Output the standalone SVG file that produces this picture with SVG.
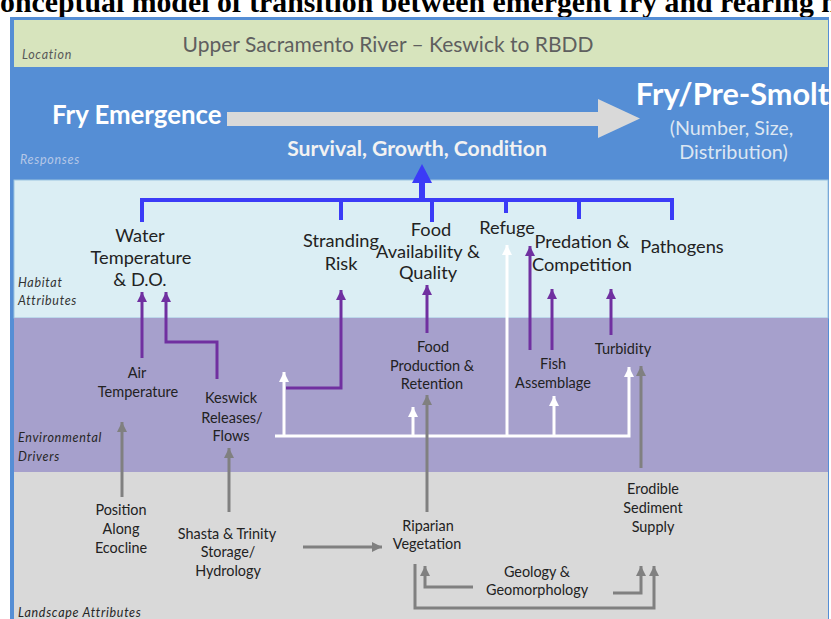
<svg xmlns="http://www.w3.org/2000/svg" width="831" height="619" viewBox="0 0 831 619">
<style>
text{font-family:Lato,"Liberation Sans",sans-serif;}
.t{font-size:18.2px;fill:#222;text-anchor:middle;}
.e{font-size:14.5px;fill:#222;text-anchor:middle;}
.l{font-size:14.4px;fill:#222;text-anchor:middle;}
.lab{font-size:12.5px;font-style:italic;fill:#333;letter-spacing:0.7px;}
.blue{stroke:#3B3BF7;stroke-width:4;fill:none;}
.pur{stroke:#7030A0;stroke-width:3;fill:none;marker-end:url(#mp);}
.wht{stroke:#FFFFFF;stroke-width:3;fill:none;marker-end:url(#mw);}
.gry{stroke:#808080;stroke-width:3;fill:none;marker-end:url(#mg);}
</style>
<defs>
<marker id="mp" viewBox="0 0 10 10" refX="10" refY="5" markerWidth="10" markerHeight="10" markerUnits="userSpaceOnUse" orient="auto"><path d="M0,0 L10,5 L0,10 z" fill="#7030A0"/></marker>
<marker id="mw" viewBox="0 0 10 10" refX="10" refY="5" markerWidth="10" markerHeight="10" markerUnits="userSpaceOnUse" orient="auto"><path d="M0,0 L10,5 L0,10 z" fill="#FFFFFF"/></marker>
<marker id="mg" viewBox="0 0 10 10" refX="10" refY="5" markerWidth="10" markerHeight="10" markerUnits="userSpaceOnUse" orient="auto"><path d="M0,0 L10,5 L0,10 z" fill="#808080"/></marker>
</defs>
<rect x="0" y="0" width="831" height="619" fill="#FFFFFF"/>
<text x="-21.5" y="12" style="font-family:'Liberation Serif',serif;font-weight:bold;font-size:29.8px;fill:#000;">Conceptual model of transition between emergent fry and rearing habitat</text>
<g id="frame">
<rect x="10" y="17" width="819" height="610" fill="#558ED5"/>
<rect x="14" y="20" width="814" height="47" fill="#D7E4BD"/>
<rect x="14" y="67" width="814" height="113" fill="#558ED5"/>
<rect x="14" y="180" width="814" height="138" fill="#DBEEF4" stroke="#9CC3E0" stroke-width="1"/>
<rect x="14" y="318" width="814" height="154" fill="#A6A0CC"/>
<rect x="14" y="472" width="814" height="150" fill="#D9D9D9"/>
</g>
<g id="band-labels">
<text class="lab" x="22" y="59" style="fill:#595959">Location</text>
<text class="lab" x="20" y="164" style="fill:#B4C7E7">Responses</text>
<text class="lab" x="18" y="287">Habitat</text>
<text class="lab" x="18" y="305">Attributes</text>
<text class="lab" x="18" y="442" style="fill:#262626">Environmental</text>
<text class="lab" x="18" y="461" style="fill:#262626">Drivers</text>
<text class="lab" x="18" y="617" style="fill:#262626">Landscape Attributes</text>
</g>
<g id="location"><text x="388" y="52" style="font-size:21px;fill:#5F5F5F;text-anchor:middle;">Upper Sacramento River – Keswick to RBDD</text></g>
<g id="fry-emergence"><text x="52" y="124" style="font-size:25.8px;font-weight:bold;fill:#FFFFFF;">Fry Emergence</text></g>
<g id="transition-arrow"><polygon points="227,112 598,112 598,99 640,118.5 598,138 598,126 227,126" fill="#D9D9D9"/></g>
<g id="fry-pre-smolt">
<text x="732.5" y="105" style="font-size:30.7px;font-weight:bold;fill:#FFFFFF;text-anchor:middle;">Fry/Pre-Smolt</text>
<text x="731.5" y="135" style="font-size:19.7px;fill:#DCE6F2;text-anchor:middle;">(Number, Size,</text>
<text x="733.5" y="159" style="font-size:19.8px;fill:#DCE6F2;text-anchor:middle;">Distribution)</text>
</g>
<g id="survival"><text x="417" y="156" style="font-size:21.2px;font-weight:bold;fill:#F2F2F2;text-anchor:middle;">Survival, Growth, Condition</text></g>
<g id="connectors">
<path class="blue" d="M140 200 H674 M142 200 V222 M341 200 V220 M432 200 V222 M506 200 V213 M579 200 V219 M672 200 V220"/>
<rect x="419" y="182" width="6" height="18" fill="#3B3BF7"/>
<polygon points="412,183 432,183 422,164" fill="#3B3BF7"/>
<path class="pur" d="M142 358 V292"/>
<path class="pur" d="M217 379 V342 H166 V292"/>
<path class="pur" d="M286 388 H341 V290"/>
<path class="pur" d="M427 333 V285"/>
<path class="pur" d="M530 350 V246"/>
<path class="pur" d="M552 350 V289"/>
<path class="pur" d="M611 335 V289"/>
<path class="wht" d="M275 436 H629 V367"/>
<path class="wht" d="M284 436 V372"/>
<path class="wht" d="M413 436 V407"/>
<path class="wht" d="M507 436 V245"/>
<path class="wht" d="M554 436 V396"/>
<path class="gry" d="M122 497 V422"/>
<path class="gry" d="M229 512 V448"/>
<path class="gry" d="M427 512 V395"/>
<path class="gry" d="M641 468 V366"/>
<path class="gry" d="M303 547 H382"/>
<path class="gry" d="M473 587 H425 V566"/>
<path class="gry" d="M613 593 H641 V566"/>
<path class="gry" d="M415 564 V608 H654 V566"/>
</g>
<g id="water-temp"><text class="t" x="140" y="242">Water</text><text class="t" x="141" y="264">Temperature</text><text class="t" x="140" y="286">&amp; D.O.</text></g>
<g id="stranding"><text class="t" x="341" y="247">Stranding</text><text class="t" x="341" y="270">Risk</text></g>
<g id="food-availability"><text class="t" x="431" y="236">Food</text><text class="t" x="428" y="258">Availability &amp;</text><text class="t" x="428" y="279">Quality</text></g>
<g id="refuge"><text class="t" x="507" y="234">Refuge</text></g>
<g id="predation"><text class="t" x="582" y="248">Predation &amp;</text><text class="t" x="582" y="271">Competition</text></g>
<g id="pathogens"><text class="t" x="682" y="253">Pathogens</text></g>
<g id="air-temp"><text class="e" x="137" y="378">Air</text><text class="e" x="138" y="397">Temperature</text></g>
<g id="keswick"><text class="e" x="231" y="403">Keswick</text><text class="e" x="232" y="423">Releases/</text><text class="e" x="231" y="441">Flows</text></g>
<g id="food-production"><text class="e" x="433" y="352">Food</text><text class="e" x="432" y="371">Production &amp;</text><text class="e" x="432" y="389">Retention</text></g>
<g id="fish-assemblage"><text class="e" x="553" y="369">Fish</text><text class="e" x="553" y="388">Assemblage</text></g>
<g id="turbidity"><text class="e" x="623" y="354">Turbidity</text></g>
<g id="position"><text class="l" x="121" y="515">Position</text><text class="l" x="121" y="534">Along</text><text class="l" x="121" y="553">Ecocline</text></g>
<g id="shasta"><text class="l" x="227" y="539">Shasta &amp; Trinity</text><text class="l" x="228" y="557">Storage/</text><text class="l" x="228" y="576">Hydrology</text></g>
<g id="riparian"><text class="l" x="428" y="531">Riparian</text><text class="l" x="427" y="549">Vegetation</text></g>
<g id="erodible"><text class="l" x="653" y="494">Erodible</text><text class="l" x="653" y="513">Sediment</text><text class="l" x="653" y="532">Supply</text></g>
<g id="geology"><text class="l" x="537" y="577">Geology &amp;</text><text class="l" x="537" y="595">Geomorphology</text></g>
</svg>
